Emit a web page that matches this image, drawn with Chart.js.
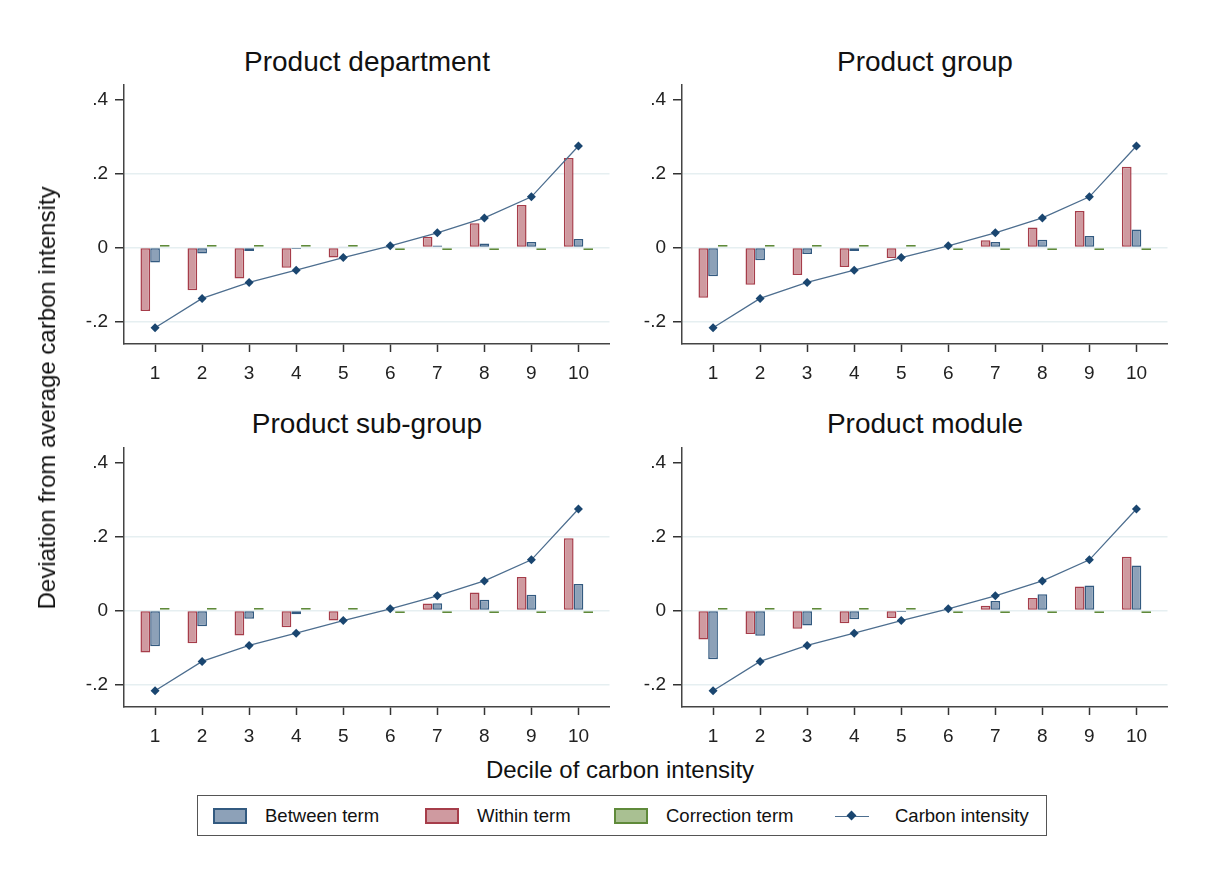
<!DOCTYPE html>
<html>
<head>
<meta charset="utf-8">
<script src="https://cdn.jsdelivr.net/npm/chart.js@4.4.0/dist/chart.umd.min.js"></script>
<style>
  body { margin: 0; background: #fff; font-family: "Liberation Sans", Arial, sans-serif; }
  #wrap { position: relative; width: 1219px; height: 880px; }
  .panel { position: absolute; }
  .title { position: absolute; width: 500px; text-align: center; font-size: 28px; color: #111; }
  .ytitle { position: absolute; left: 47px; top: 398px; transform: translate(-50%, -50%) rotate(-90deg);
            white-space: nowrap; font-size: 24px; color: #111; }
  .xtitle { position: absolute; left: 620px; top: 770px; transform: translate(-50%, -50%);
            white-space: nowrap; font-size: 24px; color: #111; }
  #legend { position: absolute; left: 197px; top: 795px; width: 850px; height: 41px;
            border: 1px solid #555; box-sizing: border-box; }
  .item { position: absolute; top: 0; height: 39px; display: flex; align-items: center; font-size: 18.5px; color: #111; }
  .sw { width: 34px; height: 16px; box-sizing: border-box; margin-right: 18px; }
  .ln { width: 34px; height: 14px; margin-right: 26px; position: relative; }
  .ln:before { content: ""; position: absolute; left: 0; right: 0; top: 7px; height: 1px; background: #4d6e8f; }
  .ln:after { content: ""; position: absolute; left: 13px; top: 3px; width: 7px; height: 7px; background: #1a4670; transform: rotate(45deg); }
</style>
</head>
<body>
<div id="wrap">
  <div class="title" style="left:117px;top:46px">Product department</div>
  <div class="title" style="left:675px;top:46px">Product group</div>
  <div class="title" style="left:117px;top:408px">Product sub-group</div>
  <div class="title" style="left:675px;top:408px">Product module</div>

  <div class="panel" style="left:60px;top:80px"><canvas id="c1"></canvas></div>
  <div class="panel" style="left:618px;top:80px"><canvas id="c2"></canvas></div>
  <div class="panel" style="left:60px;top:443px"><canvas id="c3"></canvas></div>
  <div class="panel" style="left:618px;top:443px"><canvas id="c4"></canvas></div>

  <div class="ytitle">Deviation from average carbon intensity</div>
  <div class="xtitle">Decile of carbon intensity</div>

  <div id="legend">
    <div class="item" style="left:15px"><div class="sw" style="background:#8da1b8;border:2px solid #335a80"></div>Between term</div>
    <div class="item" style="left:227px"><div class="sw" style="background:#cf9aa0;border:2px solid #a63d4a"></div>Within term</div>
    <div class="item" style="left:416px"><div class="sw" style="background:#a9c092;border:2px solid #5f8a3a"></div>Correction term</div>
    <div class="item" style="left:637px"><div class="ln"></div>Carbon intensity</div>
  </div>
</div>

<script>
// deciles et ticks
const deciles = [1, 2, 3, 4, 5, 6, 7, 8, 9, 10];
const yTicks = [-0.2, 0, 0.2, 0.4];
const yTickLabels = ["-.2", "0", ".2", ".4"];

// intensité carbone (identique dans les 4 panneaux)
const carbon = [-0.216, -0.137, -0.094, -0.061, -0.027, 0.005, 0.040, 0.080, 0.137, 0.274];
const correction = [0.002, 0.002, 0.002, 0.002, 0.001, -0.002, -0.002, -0.002, -0.002, -0.002];

// Product department
const deptWithin = [-0.171, -0.115, -0.083, -0.054, -0.027, 0.002, 0.029, 0.066, 0.115, 0.242];
const deptBetween = [-0.040, -0.016, -0.009, -0.004, 0.001, 0.001, 0.006, 0.011, 0.015, 0.023];
// Product group
const groupWithin = [-0.135, -0.100, -0.074, -0.052, -0.028, -0.002, 0.020, 0.054, 0.099, 0.218];
const groupBetween = [-0.077, -0.034, -0.017, -0.009, -0.001, 0.001, 0.015, 0.021, 0.031, 0.049];
// Product sub-group
const subWithin = [-0.113, -0.088, -0.067, -0.045, -0.027, -0.001, 0.019, 0.049, 0.091, 0.195];
const subBetween = [-0.096, -0.042, -0.022, -0.010, -0.002, 0.001, 0.020, 0.029, 0.043, 0.072];
// Product module
const moduleWithin = [-0.078, -0.063, -0.049, -0.034, -0.020, -0.002, 0.013, 0.034, 0.065, 0.145];
const moduleBetween = [-0.131, -0.068, -0.040, -0.023, -0.004, 0.001, 0.026, 0.044, 0.068, 0.122];

const pts = (arr) => arr.map((v, i) => ({ x: deciles[i], y: v }));

function panel(id, within, between) {
  const cv = document.getElementById(id);
  cv.width = 554;
  cv.height = 308;
  cv.style.width = "554px";
  cv.style.height = "308px";

  new Chart(cv, {
    type: "bar",
    data: {
      datasets: [
        {
          type: "line",
          label: "Carbon intensity",
          data: pts(carbon),
          borderColor: "#4d6e8f",
          borderWidth: 1.3,
          pointStyle: "rectRot",
          pointRadius: 4.5,
          pointBackgroundColor: "#1a4670",
          pointBorderColor: "#1a4670",
          pointBorderWidth: 0,
          tension: 0,
          order: 0,
        },
        { label: "Within term", data: pts(within), backgroundColor: "#cf9aa0", borderColor: "#a63d4a", order: 1 },
        { label: "Between term", data: pts(between), backgroundColor: "#8da1b8", borderColor: "#335a80", order: 1 },
        { label: "Correction term", data: pts(correction), backgroundColor: "#6f9447", borderColor: "#5f8a3a", minBarLength: 2.5, order: 1 },
      ],
    },
    options: {
      responsive: false,
      animation: false,
      layout: { padding: { top: 2, right: 4, left: 0, bottom: 0 } },
      plugins: { legend: { display: false }, tooltip: { enabled: false } },
      datasets: { bar: { categoryPercentage: 0.62, barPercentage: 1.0, borderWidth: 1.5, borderSkipped: false } },
      scales: {
        x: {
          type: "linear",
          offset: false,
          min: 0.34,
          max: 10.66,
          afterBuildTicks: (s) => { s.ticks = deciles.map((v) => ({ value: v })); },
          afterFit: (s) => { s.height = 44; s.paddingLeft = 0; s.paddingRight = 0; },
          grid: { offset: false, drawOnChartArea: false, drawTicks: true, tickLength: 8, tickColor: "#333", tickWidth: 1.5 },
          border: { color: "#444", width: 1.5 },
          ticks: { padding: 10, color: "#222", font: { family: "Liberation Sans", size: 19 } },
        },
        y: {
          min: -0.26,
          max: 0.44,
          afterBuildTicks: (s) => { s.ticks = yTicks.map((v) => ({ value: v })); },
          afterFit: (s) => { s.width = 64; s.paddingTop = 0; s.paddingBottom = 0; },
          grid: {
            color: (c) => (c.tick && c.tick.value === 0.4 ? "rgba(0,0,0,0)" : "#e6eff1"),
            lineWidth: 1.5,
            tickLength: 9,
            tickColor: "#333",
            tickWidth: 1.5,
          },
          border: { color: "#444", width: 1.5 },
          ticks: {
            padding: 7,
            color: "#222",
            font: { family: "Liberation Sans", size: 19 },
            callback: (v) => yTickLabels[yTicks.indexOf(v)],
          },
        },
      },
    },
  });
}

panel("c1", deptWithin, deptBetween);
panel("c2", groupWithin, groupBetween);
panel("c3", subWithin, subBetween);
panel("c4", moduleWithin, moduleBetween);
</script>
</body>
</html>
